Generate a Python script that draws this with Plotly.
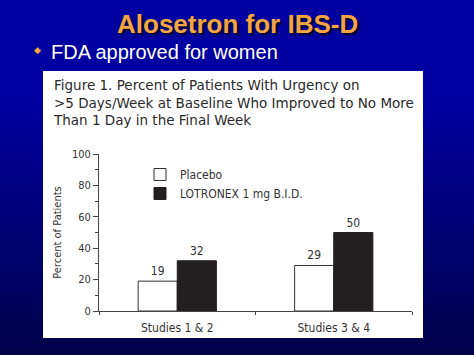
import plotly.graph_objects as go

# ---- data ----
categories = ["Studies 1 & 2", "Studies 3 & 4"]
placebo = [19, 29]
lotronex = [32, 50]
series_names = ["Placebo", "LOTRONEX 1 mg B.I.D."]
y_ticks = [0, 20, 40, 60, 80, 100]

slide_title = "Alosetron for IBS-D"
slide_bullet = "FDA approved for women"
fig_title_lines = [
    "Figure 1. Percent of Patients With Urgency on",
    ">5 Days/Week at Baseline Who Improved to No More",
    "Than 1 Day in the Final Week",
]
y_title = "Percent of Patients"

# ---- geometry ----
W, H = 474, 355
L, R, T, B = 99, 62, 154, 44
PW, PH = W - L - R, H - T - B


def px(x):
    return (x - L) / PW


def py(y):
    return (H - B - y) / PH


NARROW = "Liberation Sans Narrow, DejaVu Sans Condensed, Arial Narrow, sans-serif"

fig = go.Figure()
fig.add_trace(go.Bar(
    x=categories, y=placebo, name=series_names[0],
    marker=dict(color="white", line=dict(color="#333333", width=1)),
    text=placebo, textposition="outside",
    textfont=dict(family=NARROW, size=12, color="#333333"),
    cliponaxis=False,
))
fig.add_trace(go.Bar(
    x=categories, y=lotronex, name=series_names[1],
    marker=dict(color="#231f20", line=dict(color="#231f20", width=1)),
    text=lotronex, textposition="outside",
    textfont=dict(family=NARROW, size=12, color="#333333"),
    cliponaxis=False,
))

# background gradient bands
shapes = []
top_col = (0, 0, 160)
bot_col = (0, 0, 72)
n = 50
y0g = 100
shapes.append(dict(type="rect", xref="paper", yref="paper", layer="below",
                   x0=px(0), x1=px(W), y0=py(y0g), y1=py(0),
                   line=dict(width=0), fillcolor="rgb(0,0,160)"))
for i in range(n):
    ya = y0g + (H - y0g) * i / n
    yb = y0g + (H - y0g) * (i + 1) / n
    t = (i + 0.5) / n
    c = tuple(int(round(top_col[k] + (bot_col[k] - top_col[k]) * t)) for k in range(3))
    shapes.append(dict(type="rect", xref="paper", yref="paper", layer="below",
                       x0=px(0), x1=px(W), y0=py(yb), y1=py(ya) + 0.001,
                       line=dict(width=0), fillcolor="rgb(%d,%d,%d)" % c))
# white panel
shapes.append(dict(type="rect", xref="paper", yref="paper", layer="below",
                   x0=px(43), x1=px(423), y0=py(338), y1=py(71),
                   line=dict(width=0), fillcolor="white"))

annotations = [
    dict(text="<b>" + slide_title + "</b>", xref="paper", yref="paper",
         x=px(237), y=py(24), xanchor="center", yanchor="middle", showarrow=False,
         font=dict(family="Liberation Sans, Arial, sans-serif", size=26, color="#F5A443",
                   shadow="2px 2px 2px #000022")),
    dict(text="◆", xref="paper", yref="paper", x=px(37), y=py(50),
         xanchor="center", yanchor="middle", showarrow=False,
         font=dict(family="DejaVu Sans", size=9, color="#F5A443")),
    dict(text=slide_bullet, xref="paper", yref="paper", x=px(49), y=py(52),
         xanchor="left", yanchor="middle", showarrow=False,
         font=dict(family="Liberation Sans, Arial, sans-serif", size=20, color="white")),
    dict(text="<br>".join(fig_title_lines), xref="paper", yref="paper",
         x=px(51), y=py(75), xanchor="left", yanchor="top", align="left", showarrow=False,
         font=dict(family="DejaVu Sans, Verdana, sans-serif", size=13.5, color="#2a2a2a")),
]

fig.update_layout(
    width=W, height=H,
    margin=dict(l=L, r=R, t=T, b=B, pad=0),
    paper_bgcolor="rgb(0,0,120)",
    plot_bgcolor="rgba(0,0,0,0)",
    barmode="group", bargap=0.5, bargroupgap=0,
    shapes=shapes, annotations=annotations,
    showlegend=True,
    legend=dict(x=px(140), y=py(160), xanchor="left", yanchor="top",
                bgcolor="rgba(0,0,0,0)", borderwidth=0,
                font=dict(family=NARROW, size=12, color="#333333"),
                tracegroupgap=0, itemclick=False),
)
fig.update_xaxes(
    showline=True, linecolor="#444444", linewidth=1,
    ticks="outside", tickson="boundaries", ticklen=3, tickcolor="#444444",
    tickfont=dict(family=NARROW, size=12, color="#333333"),
    ticklabelstandoff=6,
    showgrid=False, zeroline=False,
)
fig.update_yaxes(
    range=[0, 100], tickvals=y_ticks,
    showline=True, linecolor="#444444", linewidth=1,
    ticks="outside", ticklen=5, tickcolor="#444444",
    minor=dict(dtick=10, ticks="outside", ticklen=3, tickcolor="#444444", showgrid=False),
    tickfont=dict(family=NARROW, size=11, color="#333333"),
    title=dict(text=y_title, font=dict(family=NARROW, size=11, color="#333333"), standoff=8),
    showgrid=False, zeroline=False,
)

fig.write_html("out.html", config={"displayModeBar": False},
               post_script="document.body.style.margin='0';")
